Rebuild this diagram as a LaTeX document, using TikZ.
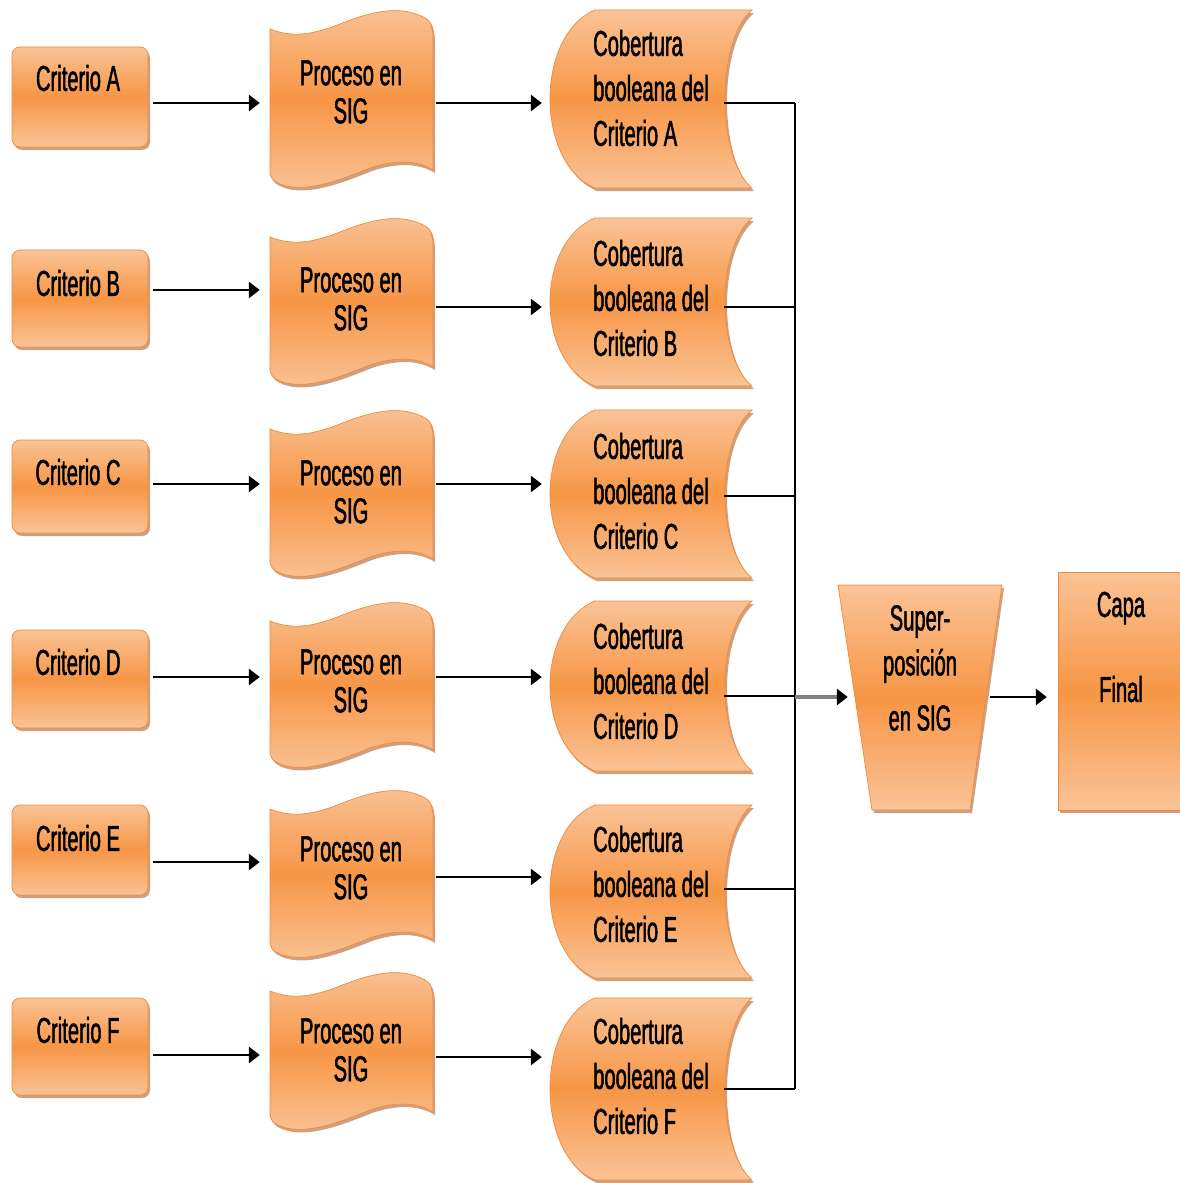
\documentclass[tikz,border=0pt]{standalone}
\usepackage{fontspec}
\setmainfont[FakeStretch=0.56,FakeBold=1.3]{Liberation Sans}
\usetikzlibrary{arrows.meta,calc,fit}
\definecolor{lite}{HTML}{FAC396}
\definecolor{orng}{HTML}{F79646}
\definecolor{edge}{HTML}{EE8A3E}
\definecolor{shad}{HTML}{B0612C}
\tikzset{
  fillshape/.style={top color=lite, bottom color=lite, middle color=orng, draw=edge, line width=0.7pt},
  shadowshape/.style={fill=shad, opacity=0.6, draw=none},
  holder/.style={inner sep=0pt, draw=none},
  lbl/.style={font=\fontsize{36}{38}\selectfont, text=black, inner sep=0pt},
  coblbl/.style={font=\fontsize{36}{45}\selectfont, text=black, inner sep=0pt, align=left, anchor=west},
  arr/.style={-{Triangle[length=11pt,width=16pt]}, line width=2.8pt},
  grayarr/.style={-{Triangle[length=11pt,width=16pt,fill=black,color=black]}, line width=4pt, draw=black!50},
  conn/.style={line width=2pt},
}
\newcommand\shp[2][]{%
  \fill[shadowshape,shift={(2,3)},#1] #2;
  \path[fillshape,#1] #2;}
\begin{document}
\begin{tikzpicture}[x=1pt,y=-1pt]
\useasboundingbox (0,0) rectangle (1180,1183);
\fill[white] (0,0) rectangle (1180,1183);
\foreach \L/\ct/\cb/\ctx/\aa/\pt/\pb/\ptx/\ab/\qt/\qb/\qtx/\ac in {
  A/47/147/78/103/10/188/92/103/10/188/88/103,
  B/250/347/283/290/218/385/299/307/218/386/298/307,
  C/440/533/472/484/410/577/492/484/410/578/491/496,
  D/630/728/662/677/602/768/681/677/601/771/681/696,
  E/805/895/838/862/790/958/868/877/805/978/884/889,
  F/998/1095/1030/1055/972/1130/1050/1057/998/1180/1076/1089}
{
  % Criterio box
  \shp[rounded corners=8pt]{(12,\ct) rectangle (148,\cb)}
  \node[holder, fit={(12,\ct) (148,\cb)}] (crit\L) {};
  \node[lbl] (crit\L t) at (78,\ctx) {Criterio \L};
  % Proceso (tape)
  \shp{(270,\pt+19) .. controls (290,\pt+27) and (310,\pt+26) .. (340,\pt+14)
       .. controls (370,\pt+2) and (400,\pt-6) .. (425,\pt+8)
       .. controls (431,\pt+12) .. (433,\pt+25)
       -- (433,\pb-18) .. controls (420,\pb-26) and (400,\pb-30) .. (370,\pb-20)
       .. controls (340,\pb-8) and (305,\pb+6) .. (280,\pb-4)
       .. controls (272,\pb-8) .. (270,\pb-15) -- cycle}
  \node[holder, fit={(270,\pt) (433,\pb)}] (proc\L) {};
  \node[lbl, align=center] (proc\L t) at (351,\ptx) {Proceso en\\SIG};
  % Cobertura (stored data)
  \shp{(595,\qt) -- (752,\qt) .. controls (716,\qt+30) and (716,\qb-30) .. (752,\qb)
       -- (595,\qb) .. controls (535,\qb-25) and (535,\qt+25) .. (595,\qt) -- cycle}
  \node[holder, fit={(550,\qt) (752,\qb)}] (cob\L) {};
  \node[coblbl] (cob\L t) at (593,\qtx) {Cobertura\\booleana del\\Criterio \L};
  % connectors
  \coordinate (bus\L) at (795,\ac);
  \draw[arr] ($(crit\L.east |- 0,\aa)+(5,0)$) -- ($(proc\L.west |- 0,\aa)+(-10,0)$);
  \draw[arr] ($(proc\L.east |- 0,\ab)+(3,0)$) -- ($(cob\L.west |- 0,\ab)+(-8,0)$);
  \draw[conn] ($(cob\L.east |- bus\L)+(-28,0)$) -- (bus\L);
}
\draw[conn] (busA) -- (busF);
% Superposicion (trapezoid)
\shp{(838,585) -- (1002,585) -- (970,810) -- (872,810) -- cycle}
\node[holder, fit={(838,585) (1002,810)}] (sup) {};
\node[lbl, font=\fontsize{36}{45}\selectfont, align=center] (supt) at (920,668) {Super-\\posición\\[10pt]en SIG};
% Capa final
\shp{(1058,572) rectangle (1181,810)}
\node[holder, fit={(1058,572) (1180,810)}] (capa) {};
\node[lbl, align=center] (capat) at (1121,647) {Capa\\[47pt]Final};
% final arrows
\coordinate (busMid) at (795,697);
\draw[grayarr] (busMid) -- ($(sup.west |- busMid)+(10,0)$);
\draw[arr] ($(sup.east |- busMid)+(-12,0)$) -- ($(capa.west |- busMid)+(-11,0)$);
\end{tikzpicture}
\end{document}
